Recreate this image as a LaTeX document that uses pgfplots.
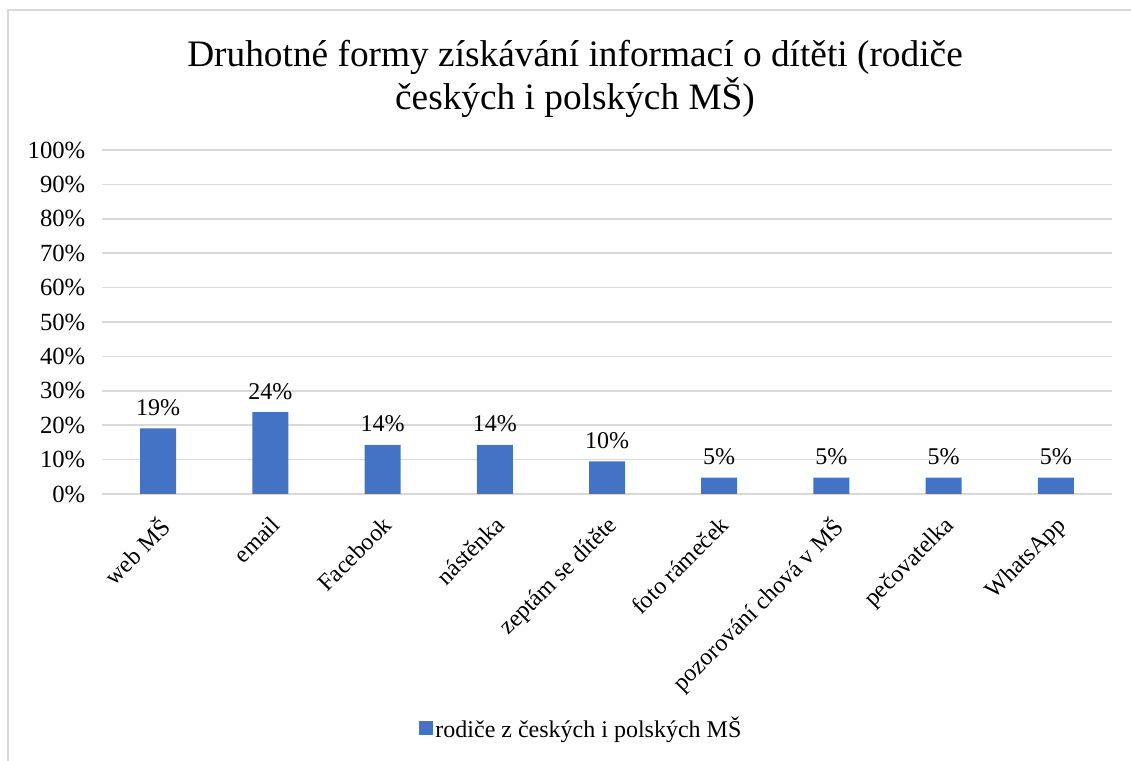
\documentclass[border=0pt]{standalone}
\usepackage{fontspec}
\setmainfont{Liberation Serif}
\usepackage{pgfplots}
\pgfplotsset{compat=1.18}
\definecolor{barblue}{HTML}{4472C4}
\definecolor{gridgray}{HTML}{D9D9D9}
\begin{document}
\begin{tikzpicture}[x=0.75pt,y=0.75pt]
\path[use as bounding box] (0,0) rectangle (1131,760);
\begin{scope}
\clip (0,0) rectangle (1131,760);
\draw[gridgray, line width=1.2pt] (8,-60) rectangle (1200,750);
\end{scope}
\node[align=center, font=\fontsize{28}{32.5}\selectfont] at (575,681) {Druhotné formy získávání informací o dítěti (rodiče\\českých i polských MŠ)};
\begin{axis}[
  at={(76.5pt,199.5pt)}, anchor=south west,
  scale only axis, width=757.5pt, height=258pt,
  xmin=-0.5, xmax=8.5, ymin=0, ymax=100,
  ytick={0,10,...,100},
  yticklabel={\pgfmathprintnumber{\tick}\%},
  /pgf/number format/assume math mode=true,
  xtick={0,...,8},
  xticklabels={web MŠ, email, Facebook, nástěnka, zeptám se dítěte, foto rámeček, pozorování chová v MŠ, pečovatelka, WhatsApp},
  xticklabel style={rotate=45, anchor=north east, font=\fontsize{18}{21}\selectfont, yshift=-4pt, xshift=-5pt},
  yticklabel style={font=\fontsize{18.5}{21}\selectfont, xshift=-9pt},
  axis line style={draw=none},
  tick style={draw=none},
  ymajorgrids, grid style={gridgray, line width=1.1pt},
  ybar, bar width=27pt,
  nodes near coords={\pgfmathprintnumber[fixed,precision=0]{\pgfplotspointmeta}\%},
  nodes near coords style={font=\fontsize{18}{21}\selectfont, yshift=6pt},
  legend style={at={(0.475,-0.68)}, anchor=center, draw=none, font=\fontsize{18}{21}\selectfont},
  legend image code/.code={\fill[barblue] (0pt,-5pt) rectangle (10pt,5pt);},
]
\addplot[fill=barblue, draw=none] coordinates {(0,19.05) (1,23.81) (2,14.29) (3,14.29) (4,9.52) (5,4.76) (6,4.76) (7,4.76) (8,4.76)};
\addlegendentry{rodiče z českých i polských MŠ}
\end{axis}
\end{tikzpicture}
\end{document}
